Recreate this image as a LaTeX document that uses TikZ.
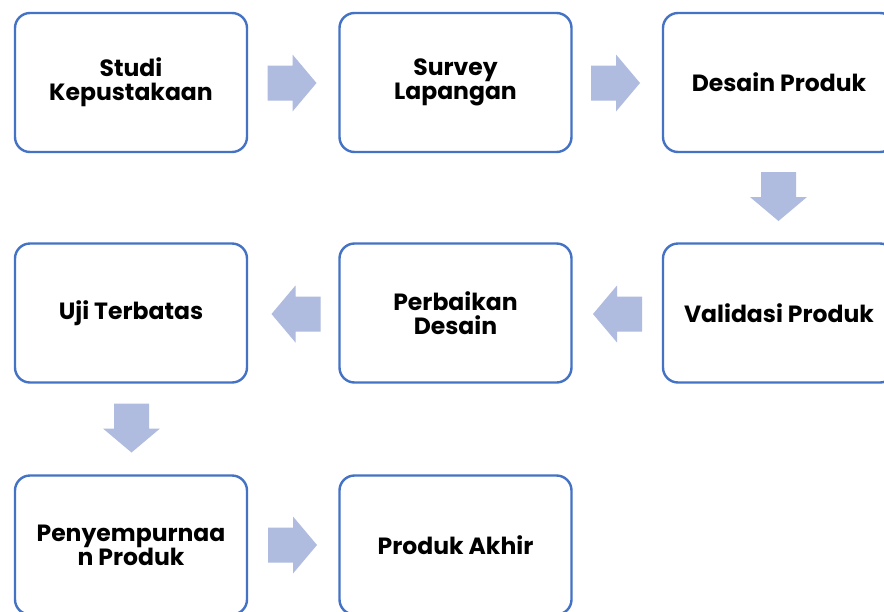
\documentclass[tikz,border=0pt]{standalone}
\usepackage{fontspec}
\setmainfont{Poppins}
\usetikzlibrary{positioning}
\definecolor{boxblue}{HTML}{4472C4}
\definecolor{arrowfill}{HTML}{AFBBDF}
\tikzset{
  stepbox/.style={draw=boxblue, line width=2.4pt, rounded corners=15pt, fill=white,
    minimum width=232pt, minimum height=139pt, inner sep=0pt, align=center,
    font=\fontsize{23.5}{24}\selectfont\bfseries, text=black},
}
\newcommand{\blockarrow}[4]{% name, x, y, angle
  \coordinate (#1) at (#2,#3);
  \fill[arrowfill, shift={(#1)}, rotate=#4]
    (-24.5,-17.5) -- (0.5,-17.5) -- (0.5,-28.5) -- (24.5,0) -- (0.5,28.5) -- (0.5,17.5) -- (-24.5,17.5) -- cycle;
}
\begin{document}
\begin{tikzpicture}[x=1pt,y=-1pt]
\useasboundingbox (0,0) rectangle (884,611);
\fill[white] (0,0) rectangle (884,611);
\begin{scope}
\clip (0,0) rectangle (884,611);
\node[stepbox] (b1) at (131,82.5) {Studi\\Kepustakaan};
\node[stepbox] (b2) at (455.5,82.5) {Survey\\Lapangan};
\node[stepbox] (b3) at (779,82.5) {Desain Produk};
\node[stepbox] (b4) at (779,313) {Validasi Produk};
\node[stepbox] (b5) at (455.5,313) {Perbaikan\\Desain};
\node[stepbox] (b6) at (131,313) {Uji Terbatas};
\node[stepbox] (b7) at (131,545) {Penyempurnaa\\n Produk};
\node[stepbox] (b8) at (455.5,545) {Produk Akhir};
\blockarrow{a1}{292}{83}{0}
\blockarrow{a2}{615.5}{83}{0}
\blockarrow{a3}{778.5}{196.5}{-90}
\blockarrow{a4}{617.5}{314}{180}
\blockarrow{a5}{296}{314}{180}
\blockarrow{a6}{131.5}{428}{-90}
\blockarrow{a7}{292.5}{545}{0}
\end{scope}
\end{tikzpicture}
\end{document}
